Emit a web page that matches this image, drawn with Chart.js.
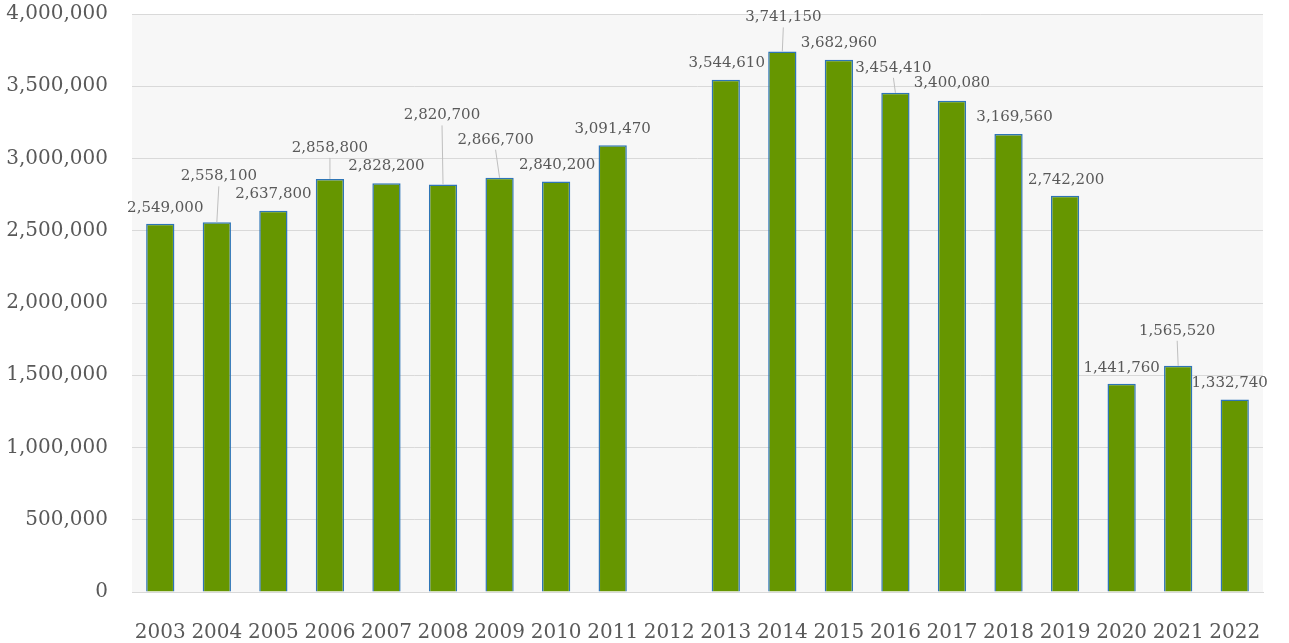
<!DOCTYPE html>
<html>
<head>
<meta charset="utf-8">
<script src="https://cdn.jsdelivr.net/npm/chart.js@4.4.1/dist/chart.umd.min.js"></script>
<style>
  html, body { margin: 0; padding: 0; background: #ffffff; overflow: hidden; }
  /* canvas shifted up a bit so the plot's top gridline sits near the window top */
  #wrap { width: 1289px; height: 665px; position: relative; margin-top: -22px; }
</style>
</head>
<body>
<div id="wrap"><canvas id="chart"></canvas></div>
<script>
// data
const years = ["2003", "2004", "2005", "2006", "2007", "2008", "2009", "2010", "2011", "2012",
  "2013", "2014", "2015", "2016", "2017", "2018", "2019", "2020", "2021", "2022"];
const visitors = [2549000, 2558100, 2637800, 2858800, 2828200, 2820700, 2866700, 2840200, 3091470, null,
  3544610, 3741150, 3682960, 3454410, 3400080, 3169560, 2742200, 1441760, 1565520, 1332740];
const yTicks = [0, 500000, 1000000, 1500000, 2000000, 2500000, 3000000, 3500000, 4000000];

// label placement (px offsets from bar top) + whether a leader line is drawn
const labelDx = [5, 2, 0, 0, 0, -1, -4, 1, 0, 0, 1, 1, 0, -2, 0, 6, 1, 0, -1, -5];
const labelDy = [-16, -46, -17, -31, -17, -69, -38, -16, -16, 0, -17, -34, -17, -25, -18, -17, -16, -16, -35, -16];
const leader = [false, true, false, true, false, true, true, false, false, false,
  false, true, false, true, false, false, false, false, true, false];

const textColor = "#595959";
const fontFam = "'DejaVu Serif', 'Liberation Serif', serif";
const fmt = (v) => v.toLocaleString("en-US");

// gray plot background
const plotBg = {
  id: "plotBg",
  beforeDraw(chart) {
    const { ctx, chartArea: a } = chart;
    ctx.save();
    ctx.fillStyle = "#f7f7f7";
    ctx.fillRect(a.left, a.top, a.right - a.left, a.bottom - a.top);
    ctx.restore();
  },
};

// value labels above bars
const barLabels = {
  id: "barLabels",
  afterDatasetsDraw(chart) {
    const { ctx } = chart;
    const meta = chart.getDatasetMeta(0);
    ctx.save();
    ctx.font = "15px " + fontFam;
    ctx.fillStyle = textColor;
    ctx.textAlign = "center";
    ctx.textBaseline = "middle";
    meta.data.forEach((bar, i) => {
      const v = visitors[i];
      if (v == null) return;
      const lx = bar.x + labelDx[i];
      const ly = bar.y + labelDy[i];
      if (leader[i]) {
        ctx.strokeStyle = "#bfbfbf";
        ctx.lineWidth = 1;
        ctx.beginPath();
        ctx.moveTo(lx, ly + 10);
        ctx.lineTo(bar.x, bar.y);
        ctx.stroke();
      }
      ctx.fillText(fmt(v), lx, ly);
    });
    ctx.restore();
  },
};

new Chart(document.getElementById("chart"), {
  type: "bar",
  data: {
    labels: years,
    datasets: [
      {
        data: visitors,
        backgroundColor: "#669600",
        borderColor: "#2e75b6",
        borderWidth: 1.5,
        barPercentage: 0.5,
        categoryPercentage: 1.0,
      },
    ],
  },
  options: {
    responsive: true,
    maintainAspectRatio: false,
    animation: false,
    layout: { padding: { top: 0, right: 26, left: 0, bottom: 0 } },
    plugins: {
      legend: { display: false },
      tooltip: { enabled: false },
    },
    scales: {
      x: {
        grid: { display: false },
        border: { color: "#d9d9d9" },
        ticks: {
          color: textColor,
          font: { family: fontFam, size: 20 },
          padding: 21,
          maxRotation: 0,
          autoSkip: false,
        },
        afterFit(scale) { scale.height = 51; },
      },
      y: {
        min: 0,
        max: 4000000,
        afterBuildTicks(scale) { scale.ticks = yTicks.map((v) => ({ value: v })); },
        grid: { color: "#d9d9d9", drawTicks: false },
        border: { display: false },
        ticks: {
          color: textColor,
          font: { family: fontFam, size: 20 },
          padding: 24,
          callback: (v) => fmt(v),
        },
        afterFit(scale) { scale.width = 132; },
      },
    },
  },
  plugins: [plotBg, barLabels],
});
</script>
</body>
</html>
